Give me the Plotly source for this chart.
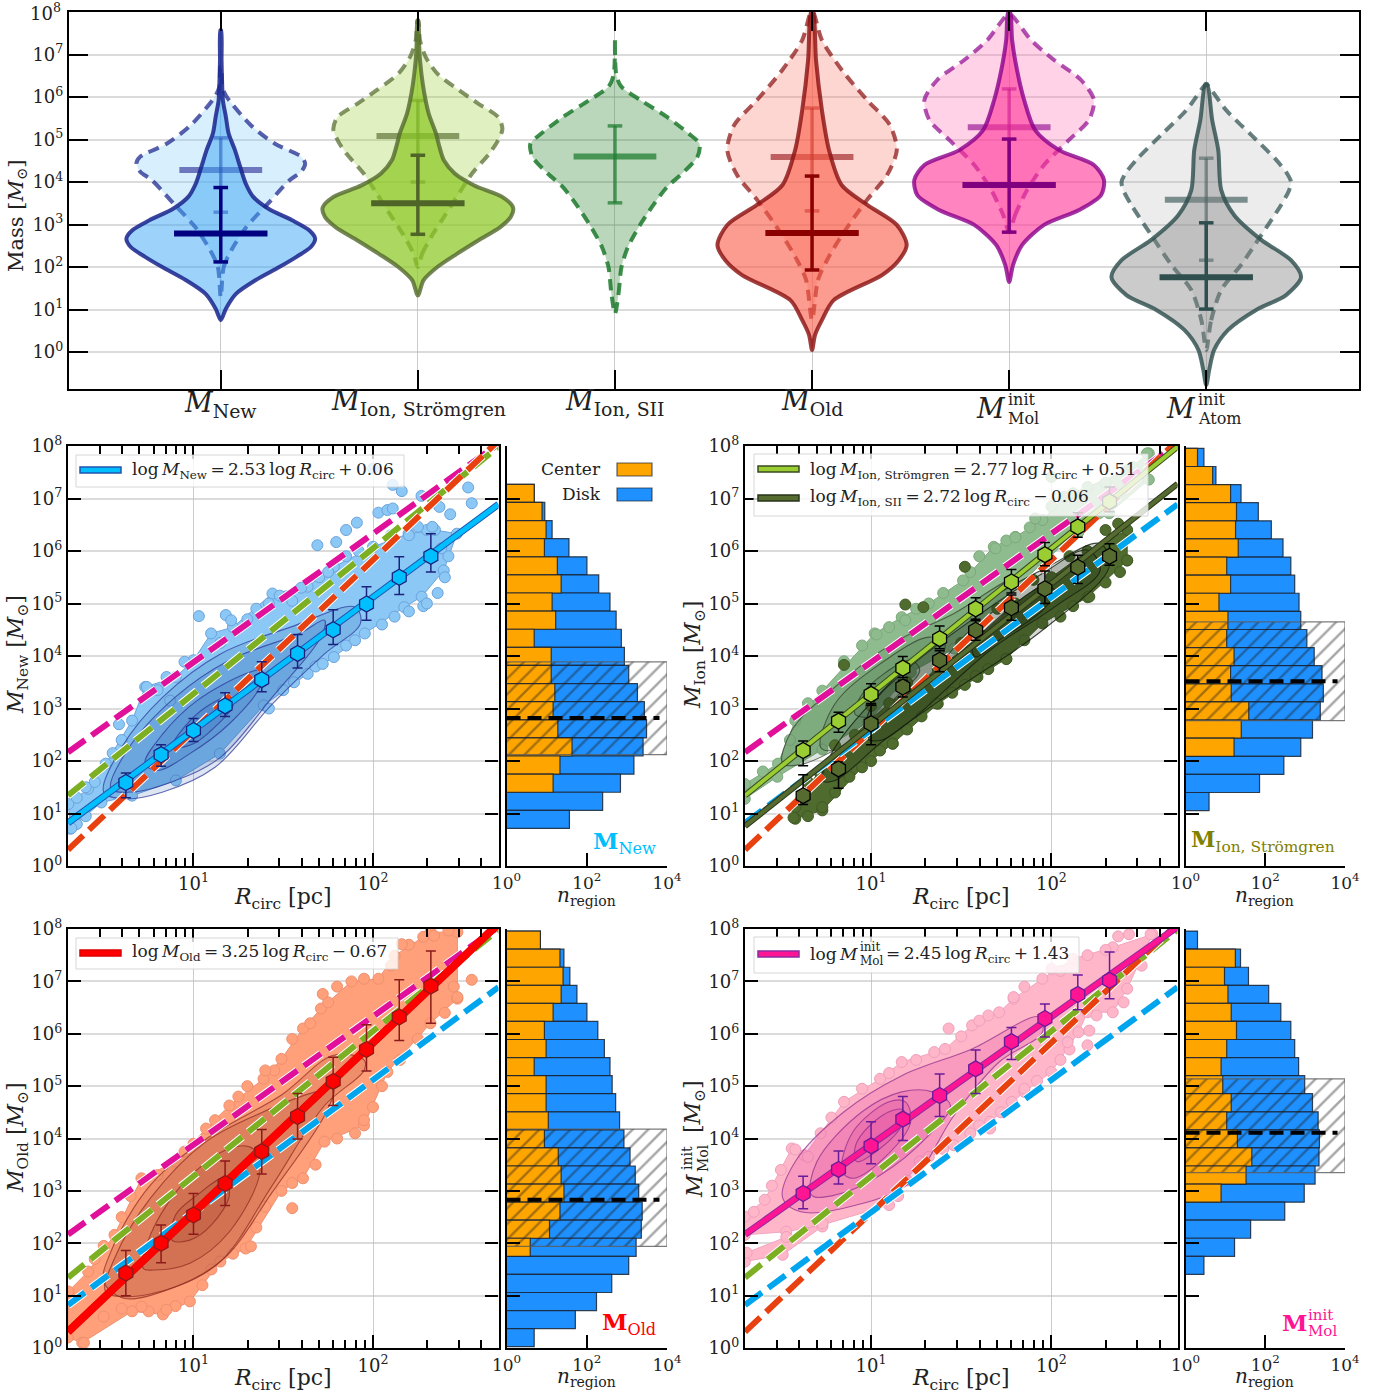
import plotly.graph_objects as go

W, H = 1385, 1395
SERIF = "DejaVu Serif"
TS = "\u2009"

# ---------- top panel: violins (log10 mass, half width in category units) ----------
cat_positions = [0, 1, 2, 3, 4, 5]
mass_ticks = [0, 1, 2, 3, 4, 5, 6, 7, 8]
mass_labels = ["10<sup>%d</sup>" % t for t in mass_ticks]

new_disk_m = [.75, 1.02, 1.37, 1.69, 2.0, 2.24, 2.47, 2.67, 2.86, 3.1, 3.37, 3.65, 3.96, 4.35, 4.75, 5.14, 5.53, 5.92, 6.31, 6.86, 7.57]
new_disk_w = [0, .026, .077, .176, .297, .384, .457, .479, .45, .362, .242, .165, .127, .099, .072, .04, .026, .011, .007, .004, .002]
new_cen_m = [1.29, 2.0, 2.39, 2.94, 3.49, 4.04, 4.25, 4.43, 4.59, 4.9, 5.33, 6.0, 6.24, 6.71]
new_cen_w = [0, .015, .053, .13, .239, .349, .41, .428, .41, .275, .154, .031, .007, .002]
ion_disk_m = [1.33, 1.69, 2.0, 2.31, 2.63, 2.94, 3.18, 3.4, 3.65, 3.92, 4.2, 4.51, 4.82, 5.14, 5.61, 6.08, 6.55, 7.1, 7.8]
ion_disk_w = [0, .029, .099, .198, .308, .418, .472, .483, .428, .286, .187, .132, .11, .092, .055, .033, .018, .007, .002]
ion_cen_m = [2.0, 2.31, 2.78, 3.25, 3.73, 4.2, 4.67, 4.98, 5.25, 5.53, 5.84, 6.16, 6.55, 6.94, 7.33, 7.8]
ion_cen_w = [0, .022, .077, .143, .209, .275, .363, .407, .429, .407, .308, .209, .099, .04, .011, .002]
sii_cen_m = [.9, 1.37, 2.0, 2.47, 2.94, 3.41, 3.88, 4.2, 4.59, 4.9, 5.14, 5.53, 5.92, 6.24, 6.51, 7.37]
sii_cen_w = [0, .018, .033, .066, .121, .187, .264, .341, .418, .429, .374, .264, .132, .033, .007, 0]
old_disk_m = [.05, .4, .75, 1.22, 1.81, 2.16, 2.52, 2.99, 3.46, 3.93, 4.75, 5.69, 6.87, 8.0]
old_disk_w = [0, .015, .05, .11, .355, .44, .48, .43, .28, .15, .086, .05, .02, .005]
old_cen_m = [.75, 1.69, 2.16, 2.75, 3.58, 4.16, 4.75, 5.34, 5.93, 6.63, 7.34, 8.0]
old_cen_w = [0, .03, .076, .152, .279, .38, .43, .395, .279, .152, .05, .005]
mol_disk_m = [1.65, 2.05, 2.52, 2.99, 3.34, 3.69, 4.05, 4.4, 4.75, 5.22, 5.93, 6.63, 7.34, 8.0]
mol_disk_w = [0, .02, .066, .177, .355, .466, .481, .43, .253, .132, .076, .04, .015, .005]
mol_cen_m = [2.82, 3.22, 3.81, 4.4, 4.99, 5.46, 5.93, 6.4, 6.87, 7.34, 7.93]
mol_cen_w = [0, .03, .091, .177, .304, .405, .43, .365, .228, .111, .01]
atom_disk_m = [-.78, -.42, .05, .52, .99, 1.34, 1.76, 2.16, 2.64, 3.22, 3.81, 4.75, 5.46, 6.3]
atom_disk_w = [0, .015, .04, .111, .253, .405, .481, .43, .279, .142, .076, .061, .03, .005]
atom_cen_m = [.05, .75, 1.46, 2.05, 2.75, 3.46, 3.8, 4.0, 4.2, 4.52, 5.11, 5.69, 6.28]
atom_cen_w = [0, .025, .076, .177, .279, .38, .42, .43, .41, .355, .228, .101, .005]

# median, lower cap, upper cap (log10)
new_disk_stats = (2.79, 2.12, 3.87)
new_cen_stats = (4.28, 3.29, 5.04)
ion_disk_stats = (3.50, 2.77, 4.63)
ion_cen_stats = (5.08, 4.00, 5.92)
sii_cen_stats = (4.60, 3.51, 5.32)
old_disk_stats = (2.80, 1.93, 4.14)
old_cen_stats = (4.59, 3.32, 5.74)
mol_disk_stats = (3.93, 2.82, 5.01)
mol_cen_stats = (5.29, 3.93, 6.19)
atom_disk_stats = (1.76, 1.01, 3.04)
atom_cen_stats = (3.58, 2.16, 4.56)

# ---------- scatter panels ----------
bin_R = [4.2, 6.6, 10, 15, 24, 38, 60, 92, 140, 210]
new_med = [1.59, 2.12, 2.58, 3.05, 3.55, 4.05, 4.50, 4.99, 5.50, 5.90]
new_hi = [1.77, 2.31, 2.81, 3.30, 3.89, 4.41, 4.88, 5.32, 5.89, 6.33]
new_lo = [1.30, 1.90, 2.37, 2.85, 3.32, 3.77, 4.22, 4.68, 5.17, 5.60]
ion_med = [2.20, 2.76, 3.27, 3.77, 4.33, 4.90, 5.41, 5.93, 6.46, 6.94]
ion_hi = [2.38, 2.93, 3.47, 3.99, 4.57, 5.11, 5.65, 6.16, 6.73, 7.22]
ion_lo = [1.91, 2.55, 3.06, 3.59, 4.14, 4.67, 5.20, 5.72, 6.26, 6.75]
sii_med = [1.34, 1.85, 2.71, 3.41, 3.92, 4.49, 4.92, 5.28, 5.69, 5.90]
sii_hi = [1.74, 1.98, 3.09, 3.54, 4.10, 4.70, 5.16, 5.62, 5.92, 6.14]
sii_lo = [1.17, 1.48, 2.31, 3.22, 3.70, 4.30, 4.68, 5.00, 5.38, 5.73]
old_med = [1.43, 2.00, 2.54, 3.14, 3.75, 4.42, 5.09, 5.70, 6.32, 6.91]
old_hi = [1.86, 2.35, 2.95, 3.57, 4.17, 4.86, 5.55, 6.17, 7.03, 7.58]
old_lo = [1.00, 1.63, 2.17, 2.72, 3.32, 3.99, 4.63, 5.29, 5.87, 6.20]
mol_med = [2.95, 3.41, 3.86, 4.37, 4.82, 5.33, 5.85, 6.29, 6.75, 7.02]
mol_hi = [3.28, 3.76, 4.32, 4.80, 5.23, 5.69, 6.12, 6.57, 7.12, 7.56]
mol_lo = [2.66, 3.13, 3.52, 3.96, 4.42, 4.86, 5.51, 5.94, 6.46, 6.67]

fit_new = (2.53, 0.06)
fit_ion = (2.77, 0.51)
fit_sii = (2.72, -0.06)
fit_old = (3.25, -0.67)
fit_mol = (2.45, 1.43)
R_ends = [2, 500]

# point-cloud outlines, (log R, log M)
new_cloud = [(.315, .71), (.487, 1.21), (.658, 1.34), (.902, 1.63), (1.147, 2.14), (1.391, 3.06), (1.636, 3.66), (1.782, 3.98), (1.954, 4.43), (2.174, 4.93), (2.271, 5.13), (2.394, 5.63),
             (2.467, 6.33), (2.345, 6.40), (2.198, 6.33), (2.0, 6.08), (1.782, 5.70), (1.636, 5.32), (1.44, 5.19), (1.22, 4.55), (1.098, 4.43), (1.0, 3.92), (.902, 3.60), (.731, 3.41), (.658, 2.77), (.511, 1.95), (.413, 1.47), (.303, 1.18)]
new_out = [(1.03, 4.76), (1.18, 4.78), (1.21, 4.68), (1.69, 6.11), (1.795, 6.17), (1.85, 6.40), (1.91, 6.54), (2.03, 6.73), (2.08, 6.78), (2.11, 6.81), (2.16, 7.14), (2.11, 7.26), (2.0, 7.57),
           (2.27, 7.05), (2.37, 6.84), (2.43, 6.70), (2.53, 7.21), (2.55, 6.91), (2.33, 6.46), (2.25, 6.46), (.585, 2.70), (.74, 3.41), (.95, 3.89), (.87, 3.15)]
new_edge = [(1.42, 3.0), (1.5, 3.35), (1.56, 3.5), (1.68, 3.8), (1.72, 3.85), (1.85, 4.2), (1.9, 4.3), (2.05, 4.6), (2.12, 4.75), (2.2, 4.85), (2.28, 4.95), (2.3, 5.0), (2.36, 5.2), (2.4, 5.5), (2.42, 5.9), (2.38, 6.05),
            (1.15, 4.25), (1.3, 4.7), (1.35, 4.9), (1.42, 5.0), (1.48, 5.15), (1.55, 5.05), (1.6, 5.3), (1.7, 5.5), (1.75, 5.6), (1.85, 5.9), (1.92, 6.0), (2.1, 6.3), (2.2, 6.3), (2.3, 6.4), (.85, 3.6), (.8, 3.35), (.6, 2.4), (.55, 2.15), (.45, 1.6), (.4, 1.5), (.35, 1.3), (.35, .8), (.4, .95), (.32, .72)]
new_contours = [
    [(.5, 1.41), (.6, 2.26), (.83, 3.22), (1.15, 4.04), (1.54, 4.55), (1.9, 4.93), (1.93, 4.62), (1.73, 4.04), (1.44, 3.09), (1.12, 1.88), (.83, 1.41), (.61, 1.28)],
    [(.54, 1.47), (.63, 2.2), (.9, 3.22), (1.2, 3.92), (1.59, 4.43), (1.73, 4.68), (1.71, 4.36), (1.44, 3.22), (1.15, 2.07), (.9, 1.63), (.66, 1.41)],
    [(.73, 1.95), (.83, 2.52), (1.02, 3.15), (1.29, 3.66), (1.38, 3.73), (1.37, 3.41), (1.2, 2.71), (.98, 2.14), (.8, 1.82)],
    [(.88, 2.26), (.95, 2.65), (1.07, 3.03), (1.2, 3.22), (1.22, 3.06), (1.12, 2.65), (1.0, 2.33)],
]
ion_cloud = [(.30, 1.28), (.48, 1.7), (.73, 2.22), (.98, 2.73), (1.22, 3.69), (1.46, 4.14), (1.71, 4.96), (1.95, 5.78), (2.15, 6.36), (2.32, 6.72), (2.54, 7.36),
             (2.54, 7.86), (2.42, 7.54), (2.2, 7.22), (2.07, 7.03), (1.95, 6.59), (1.80, 6.27), (1.68, 6.08), (1.51, 5.44), (1.32, 5.0), (1.17, 4.74), (1.02, 4.43), (.73, 3.34), (.58, 2.77), (.484, 1.95), (.30, 1.56)]
ion_out = [(1.03, 4.41), (1.69, 6.05), (1.8, 6.26), (2.0, 7.41), (2.53, 7.86), (1.91, 6.62), (1.19, 4.68)]
ion_edge = [(.4, 1.8), (.55, 2.4), (.65, 3.1), (.85, 3.9), (.95, 4.2), (1.1, 4.55), (1.25, 4.9), (1.4, 5.2), (1.55, 5.6), (1.6, 5.9), (1.75, 6.2), (1.88, 6.45), (2.0, 6.85), (2.12, 7.1), (2.3, 7.3), (2.45, 7.6)]
ion_contours = [
    [(.51, 1.95), (.56, 2.58), (.80, 3.41), (1.12, 4.24), (1.46, 4.81), (1.78, 5.44), (1.76, 5.13), (1.51, 4.36), (1.22, 3.15), (.92, 2.45), (.63, 1.95)],
    [(.72, 2.26), (.8, 3.09), (1.05, 3.85), (1.32, 4.36), (1.41, 4.24), (1.29, 3.47), (1.02, 2.71), (.78, 2.2)],
    [(.91, 2.9), (.94, 3.22), (1.07, 3.66), (1.22, 3.92), (1.27, 3.73), (1.14, 3.22), (1.0, 2.84)],
]
sii_cloud = [(.58, .90), (.73, 1.06), (.95, 1.88), (1.12, 2.33), (1.37, 3.09), (1.59, 3.6), (1.75, 3.95), (1.95, 4.62), (2.2, 5.12), (2.42, 5.82),
             (2.42, 6.4), (2.2, 6.0), (2.0, 5.5), (1.8, 5.0), (1.61, 4.4), (1.37, 3.75), (1.1, 3.1), (.91, 2.5), (.71, 1.8), (.58, 1.12)]
sii_out = [(.57, .92), (.73, 1.12), (1.12, 2.33), (1.36, 3.10), (1.58, 3.62), (1.75, 3.94), (.85, 3.83), (1.19, 4.98), (1.29, 4.93), (1.52, 5.70), (2.21, 5.13), (2.42, 5.82), (2.37, 6.52)]
sii_edge = [(.65, .95), (.8, 1.4), (.88, 1.7), (1.0, 2.0), (1.05, 2.2), (1.2, 2.6), (1.28, 2.85), (1.45, 3.3), (1.52, 3.45), (1.65, 3.75), (1.85, 4.3), (2.05, 4.75), (2.12, 4.95), (2.3, 5.4), (2.38, 5.6),
            (.65, 1.6), (.8, 2.3), (1.0, 3.05), (1.2, 3.5), (1.5, 4.25), (1.7, 4.9), (1.9, 5.45), (2.1, 5.9), (2.3, 6.4)]
sii_contours = [
    [(.73, 1.63), (.8, 2.26), (1.1, 3.47), (1.56, 4.87), (1.98, 5.7), (2.27, 6.14), (2.32, 5.7), (1.95, 4.49), (1.46, 3.34), (1.07, 2.39), (.8, 1.63)],
    [(.97, 2.45), (1.0, 3.03), (1.17, 3.66), (1.58, 4.74), (1.95, 5.57), (2.2, 6.02), (2.27, 5.63), (2.02, 4.94), (1.66, 4.11), (1.22, 2.77), (1.05, 2.39)],
    [(1.56, 4.17), (1.71, 4.74), (1.95, 5.32), (2.02, 5.25), (1.95, 4.87), (1.71, 4.3), (1.58, 3.98)],
]
old_cloud = [(.30, .2), (.38, .1), (.658, .70), (.83, .64), (.98, .89), (1.15, 1.65), (1.29, 1.9), (1.49, 3.0), (1.61, 3.24), (1.73, 3.94), (1.95, 4.25), (2.08, 5.27), (2.32, 6.2), (2.47, 6.67),
             (2.47, 7.94), (2.32, 7.94), (2.12, 7.49), (2.03, 7.05), (1.88, 7.0), (1.71, 6.48), (1.61, 6.1), (1.49, 5.52), (1.39, 5.14), (1.2, 4.63), (1.07, 4.19), (.90, 3.56), (.71, 3.24), (.56, 2.16), (.413, 1.46), (.303, 1.08)]
old_out = [(.39, .10), (1.55, 2.67), (1.32, 1.94), (1.72, 6.76), (2.55, 7.03), (2.47, 6.70), (1.95, 4.35), (1.4, 5.3), (2.16, 7.71), (2.34, 7.87), (2.42, 7.97), (.85, .73), (.71, .79)]
old_edge = [(.45, 1.7), (.5, 1.95), (.6, 2.5), (.65, 2.9), (.8, 3.3), (.95, 3.75), (1.0, 3.9), (1.12, 4.35), (1.25, 4.8), (1.3, 5.0), (1.45, 5.3), (1.55, 5.9), (1.65, 6.2), (1.75, 6.6), (1.8, 6.9), (1.95, 7.05), (2.1, 7.3), (2.2, 7.7), (2.28, 7.85),
            (.5, .6), (.6, .75), (.75, .7), (.9, .8), (1.05, 1.2), (1.1, 1.5), (1.22, 1.8), (1.35, 2.3), (1.4, 2.7), (1.55, 3.15), (1.68, 3.5), (1.8, 4.0), (1.9, 4.1), (2.0, 4.6), (2.05, 5.0), (2.15, 5.5), (2.25, 5.9), (2.4, 6.4), (2.45, 6.9)]
old_contours = [
    [(.50, 1.27), (.54, 1.84), (.76, 3.11), (1.1, 4.06), (1.49, 4.83), (1.78, 5.59), (1.95, 5.5), (1.95, 5.3), (1.73, 4.63), (1.44, 3.11), (1.15, 1.65), (.88, 1.14), (.61, .95)],
    [(.51, 1.08), (.56, 1.71), (.76, 2.86), (1.07, 3.94), (1.39, 4.51), (1.68, 4.89), (1.78, 4.95), (1.73, 4.44), (1.44, 2.98), (1.17, 1.71), (.90, 1.17), (.63, .98)],
    [(.72, 1.52), (.76, 2.16), (.95, 3.17), (1.2, 3.81), (1.33, 3.81), (1.37, 3.37), (1.2, 2.22), (.98, 1.62), (.78, 1.49)],
    [(.88, 2.06), (.9, 2.54), (1.02, 2.92), (1.17, 3.24), (1.2, 2.92), (1.1, 2.35), (.98, 2.06)],
]
mol_cloud = [(.30, 2.16), (.53, 2.22), (.73, 2.35), (1.1, 2.73), (1.27, 3.56), (1.46, 3.87), (1.66, 4.32), (1.85, 4.89), (2.0, 5.27), (2.15, 6.03), (2.2, 6.41), (2.34, 6.41), (2.42, 6.86),
             (2.56, 7.9), (2.34, 7.65), (2.12, 7.43), (1.95, 7.05), (1.79, 6.67), (1.71, 6.41), (1.56, 6.16), (1.41, 5.71), (1.17, 5.46), (1.05, 5.14), (.85, 4.70), (.63, 3.68), (.56, 3.81), (.41, 2.83), (.30, 2.51)]
mol_band = [(.30, 1.65), (.51, 1.78), (.73, 2.32), (.73, 2.38), (.53, 2.12), (.31, 1.82)]
mol_out = [(1.43, 6.10), (.58, 3.79), (1.79, 6.7), (2.21, 6.06), (2.2, 5.78), (2.37, 7.86), (2.55, 7.9), (1.85, 4.95), (2.09, 5.84), (2.0, 7.24), (1.66, 4.19)]
mol_edge = [(.35, 2.6), (.45, 3.1), (.5, 3.4), (.65, 3.65), (.72, 4.1), (.78, 4.4), (.95, 4.95), (1.1, 5.25), (1.25, 5.5), (1.35, 5.65), (1.5, 5.95), (1.6, 6.25), (1.65, 6.35), (1.85, 6.9), (2.05, 7.2), (2.2, 7.5), (2.3, 7.6), (2.43, 7.9),
            (1.15, 2.9), (1.2, 3.2), (1.32, 3.65), (1.4, 3.8), (1.55, 4.1), (1.6, 4.25), (1.72, 4.5), (1.78, 4.7), (1.92, 5.1), (2.05, 5.5), (2.1, 5.7), (2.25, 6.35), (2.4, 6.6), (2.5, 7.3)]
mol_contours = [
    [(.51, 2.86), (.58, 3.56), (.85, 4.51), (1.17, 5.2), (1.56, 5.71), (1.93, 6.32), (1.95, 6.03), (1.71, 5.46), (1.46, 4.44), (1.22, 3.17), (.92, 2.73), (.61, 2.6)],
    [(.67, 2.92), (.7, 3.56), (.95, 4.51), (1.17, 4.89), (1.34, 4.89), (1.44, 4.63), (1.32, 4.06), (1.05, 3.3), (.8, 2.92)],
    [(.84, 3.37), (.9, 4.13), (1.1, 4.7), (1.19, 4.7), (1.22, 4.32), (1.07, 3.62), (.9, 3.24)],
    [(.91, 3.81), (.96, 4.13), (1.1, 4.51), (1.18, 4.54), (1.17, 4.25), (1.05, 3.81), (.92, 3.56)],
]

# ---------- histograms: region counts per mass bin, top bin first ----------
bin_width = 0.345
new_first_top = 7.27
new_center = [4.9, 7.7, 9.7, 8.8, 18.5, 23, 13.7, 16.8, 4.9, 13, 13, 16, 14.5, 19, 43, 21.5, 14.5, 0, 0]
new_total = [4.9, 9, 13.7, 36, 101, 199, 380, 540, 728, 867, 1112, 1832, 2730, 3094, 2534, 1500, 692, 249, 37]
ion_first_top = 7.955
ion_center = [2.0, 4.8, 13.5, 19, 18, 21, 10.8, 13.5, 6.9, 11.6, 10.8, 16.5, 13.5, 14, 38.6, 25, 16.5, 0, 0, 0]
ion_total = [2.9, 5.8, 24.7, 67, 142, 279, 438, 548, 704, 778, 1105, 1690, 2655, 2860, 2400, 1530, 778, 293, 72, 3.9]
old_first_top = 7.96
old_center = [7, 21.5, 25.7, 23, 14.5, 8.8, 9.7, 4.9, 9.7, 9.7, 11, 8.8, 19.5, 23, 27, 21.5, 11.8, 3.9, 0, 0, 0, 0, 0]
old_total = [7, 27, 38, 57, 101, 189, 275, 380, 430, 525, 658, 845, 1200, 1618, 1973, 2410, 2290, 1700, 1112, 420, 175, 52, 4.9]
mol_first_top = 7.96
mol_center = [0, 17.8, 9.5, 11.6, 14, 19, 10.8, 7.8, 8.6, 14, 10.8, 20, 46, 33, 7.8, 0, 0, 0, 0]
mol_total = [2.0, 24, 38, 122, 246, 438, 548, 687, 975, 1530, 2120, 2285, 2230, 1778, 950, 308, 43, 17, 2.9]
# hatched box: low, high, median (log M)
new_band = (2.12, 3.89, 2.82)
ion_band = (2.77, 4.65, 3.52)
old_band = (1.94, 4.18, 2.83)
mol_band_hist = (3.35, 5.14, 4.11)

R_major = [10, 100]
R_major_labels = ["10<sup>1</sup>", "10<sup>2</sup>"]
R_minor = [3, 4, 5, 6, 7, 8, 9, 20, 30, 40, 50, 60, 70, 80, 90, 200, 300, 400]
n_ticks = [1, 100, 10000]
n_labels = ["10<sup>0</sup>", "10<sup>2</sup>", "10<sup>4</sup>"]


def px(x):
    return x / W


def py(y):
    return 1 - y / H


fig = go.Figure()
layout = dict(width=W, height=H, margin=dict(l=0, r=0, t=0, b=0, autoexpand=False), paper_bgcolor="white", plot_bgcolor="white",
              showlegend=False, barmode="overlay", font=dict(family=SERIF, color="#222"))
annotations, shapes = [], []


def note(x, y, text, size=20, color="#222", anchor="center", angle=0):
    annotations.append(dict(x=px(x), y=py(y), xref="paper", yref="paper", text=text, showarrow=False,
                            font=dict(size=size, color=color, family=SERIF), xanchor=anchor, yanchor="middle", textangle=angle))


def rect(x0, y0, x1, y1, fill, line, width=1):
    shapes.append(dict(type="rect", xref="paper", yref="paper", x0=px(x0), x1=px(x1), y0=py(y0), y1=py(y1), layer="above",
                       fillcolor=fill, line=dict(color=line, width=width)))


GRIDY = "rgba(190,190,190,0.55)"
GRIDX = "rgba(140,140,140,0.45)"
TICKF = 18

# top axes
layout["xaxis"] = dict(domain=[px(69), px(1359)], range=[-.77, 5.775], anchor="y", tickmode="array", tickvals=cat_positions, automargin=False,
                       ticktext=[""] * 6, ticks="inside", ticklen=19, tickwidth=2, tickcolor="black", showline=True, linewidth=2.2,
                       linecolor="black", mirror="allticks", showgrid=True, gridcolor=GRIDX, gridwidth=1, zeroline=False)
layout["yaxis"] = dict(domain=[py(389), py(12)], type="log", range=[-.87, 8], anchor="x", tickmode="array", tickvals=[10 ** t for t in mass_ticks], automargin=False,
                       ticktext=mass_labels, ticks="inside", ticklen=19, tickwidth=2, tickcolor="black", showline=True, linewidth=2.2,
                       linecolor="black", mirror="allticks", showgrid=True, gridcolor=GRIDY, gridwidth=2, zeroline=False,
                       tickfont=dict(size=TICKF, family=SERIF))
note(63, 12, "10<sup>8</sup>", TICKF, anchor="right")


def violin(pos, m, w, fill, line, dash=None, lw=4):
    xs = [pos + v for v in w] + [pos - v for v in reversed(w)]
    ys = [10 ** v for v in m] + [10 ** v for v in reversed(m)]
    fig.add_trace(go.Scatter(x=xs, y=ys, xaxis="x", yaxis="y", mode="lines", fill="toself", fillcolor=fill,
                             line=dict(color=line, width=lw, dash=dash, shape="spline", smoothing=0.8)))


def stat_bars(pos, stats, color, half, wide=6):
    med, lo, hi = stats
    fig.add_trace(go.Scatter(x=[pos, pos], y=[10 ** lo, 10 ** hi], xaxis="x", yaxis="y", mode="lines", line=dict(color=color, width=3.5)))
    for v in (lo, hi):
        fig.add_trace(go.Scatter(x=[pos - .037, pos + .037], y=[10 ** v, 10 ** v], xaxis="x", yaxis="y", mode="lines", line=dict(color=color, width=3.5)))
    fig.add_trace(go.Scatter(x=[pos - half, pos + half], y=[10 ** med, 10 ** med], xaxis="x", yaxis="y", mode="lines", line=dict(color=color, width=wide)))


DASH = "11px,7px"
violin(0, new_cen_m, new_cen_w, "rgba(135,206,250,0.32)", "rgba(25,35,140,0.72)", DASH)
stat_bars(0, new_cen_stats, "rgba(0,0,128,0.5)", .21)
violin(0, new_disk_m, new_disk_w, "rgba(60,165,245,0.5)", "rgba(25,35,140,0.85)")
stat_bars(0, new_disk_stats, "#000080", .237)
violin(1, ion_cen_m, ion_cen_w, "rgba(154,205,50,0.3)", "rgba(85,107,47,0.72)", DASH)
stat_bars(1, ion_cen_stats, "rgba(85,107,47,0.65)", .21)
violin(1, ion_disk_m, ion_disk_w, "rgba(140,200,35,0.72)", "rgba(85,107,47,0.82)")
stat_bars(1, ion_disk_stats, "#4F6528", .237)
violin(2, sii_cen_m, sii_cen_w, "rgba(60,140,60,0.35)", "rgba(34,125,50,0.88)", DASH)
stat_bars(2, sii_cen_stats, "rgba(34,125,50,0.75)", .21)
violin(3, old_cen_m, old_cen_w, "rgba(250,128,114,0.32)", "rgba(139,20,20,0.72)", DASH)
stat_bars(3, old_cen_stats, "rgba(139,0,0,0.55)", .21)
violin(3, old_disk_m, old_disk_w, "rgba(250,90,70,0.6)", "rgba(139,20,20,0.82)")
stat_bars(3, old_disk_stats, "#8B0000", .237)
violin(4, mol_cen_m, mol_cen_w, "rgba(255,105,180,0.3)", "rgba(139,0,139,0.68)", DASH)
stat_bars(4, mol_cen_stats, "rgba(139,0,139,0.6)", .21)
violin(4, mol_disk_m, mol_disk_w, "rgba(255,50,150,0.6)", "rgba(139,0,139,0.8)")
stat_bars(4, mol_disk_stats, "#800080", .237)
violin(5, atom_cen_m, atom_cen_w, "rgba(170,170,170,0.22)", "rgba(47,79,79,0.72)", DASH)
stat_bars(5, atom_cen_stats, "rgba(47,79,79,0.6)", .21)
violin(5, atom_disk_m, atom_disk_w, "rgba(130,130,130,0.42)", "rgba(47,79,79,0.82)")
stat_bars(5, atom_disk_stats, "#2F4F4F", .237)

note(17, 216, "Mass [<i>M</i><sub>⊙</sub>]", 21, angle=-90)
note(220, 404, "<i>M</i><sub>New</sub>", 27)
note(418, 403, "<i>M</i><sub>Ion, Strömgren</sub>", 27)
note(615, 403, "<i>M</i><sub>Ion, SII</sub>", 27)
note(812, 403, "<i>M</i><sub>Old</sub>", 27)
note(991, 409, "<i>M</i>", 27)
note(1006, 399, "init", 16, anchor="left")
note(1006, 418, "Mol", 16, anchor="left")
note(1181, 409, "<i>M</i>", 27)
note(1196, 399, "init", 16, anchor="left")
note(1196, 418, "Atom", 16, anchor="left")


def pairs(seq):
    return [10 ** p[0] for p in seq], [10 ** p[1] for p in seq]


def poly(ax, seq, fill, line, lw=1.0, spline=False):
    x, y = pairs(list(seq) + [seq[0]])
    fig.add_trace(go.Scatter(x=x, y=y, xaxis="x" + ax, yaxis="y" + ax, mode="lines", fill="toself", fillcolor=fill,
                             line=dict(color=line, width=lw, shape="spline" if spline else "linear", smoothing=1.0)))


def dots(ax, seq, color, edge, size=11):
    x, y = pairs(seq)
    fig.add_trace(go.Scatter(x=x, y=y, xaxis="x" + ax, yaxis="y" + ax, mode="markers",
                             marker=dict(size=size, color=color, line=dict(color=edge, width=1))))


def fit_solid(ax, fit, core, edge, w=5, e=7):
    ys = [10 ** (fit[0] * lr + fit[1]) for lr in (0.30103, 2.69897)]
    for col, wid in ((edge, e), (core, w)):
        fig.add_trace(go.Scatter(x=R_ends, y=ys, xaxis="x" + ax, yaxis="y" + ax, mode="lines", line=dict(color=col, width=wid)))


def fit_dash(ax, fit, color):
    ys = [10 ** (fit[0] * lr + fit[1]) for lr in (0.30103, 2.69897)]
    for col, wid in (("white", 8), (color, 6)):
        fig.add_trace(go.Scatter(x=R_ends, y=ys, xaxis="x" + ax, yaxis="y" + ax, mode="lines",
                                 line=dict(color=col, width=wid, dash="21px,8px")))


def binned(ax, med, hi, lo, color, edge, size=16):
    m = [10 ** v for v in med]
    up = [10 ** h - 10 ** v for h, v in zip(hi, med)]
    dn = [10 ** v - 10 ** l for l, v in zip(lo, med)]
    fig.add_trace(go.Scatter(x=bin_R, y=m, xaxis="x" + ax, yaxis="y" + ax, mode="markers",
                             error_y=dict(type="data", array=up, arrayminus=dn, color=edge, thickness=1.5, width=5),
                             marker=dict(symbol="hexagon", size=size, color=color, line=dict(color=edge, width=1.3))))


def make_axes(ax_s, ax_h, x0, x1, hx0, hx1, ytop, ybot):
    yvals = [10 ** t for t in mass_ticks]
    layout["xaxis" + ax_s] = dict(domain=[px(x0), px(x1)], type="log", range=[0.30103, 2.69897], anchor="y" + ax_s, tickmode="array", automargin=False,
                                  tickvals=R_major, ticktext=R_major_labels, ticks="inside", ticklen=13, tickwidth=1.5, tickcolor="black",
                                  minor=dict(tickmode="array", tickvals=R_minor, ticks="inside", ticklen=8, tickwidth=1.5, tickcolor="black", showgrid=False),
                                  showline=True, linewidth=2.2, linecolor="black", mirror="allticks", showgrid=True, gridcolor=GRIDX, gridwidth=1,
                                  zeroline=False, tickfont=dict(size=TICKF, family=SERIF))
    layout["yaxis" + ax_s] = dict(domain=[py(ybot), py(ytop)], type="log", range=[0, 8], anchor="x" + ax_s, tickmode="array", tickvals=yvals, automargin=False,
                                  ticktext=mass_labels, ticks="inside", ticklen=13, tickwidth=1.5, tickcolor="black", showline=True, linewidth=2.2,
                                  linecolor="black", mirror="allticks", showgrid=True, gridcolor=GRIDY, gridwidth=2, zeroline=False,
                                  tickfont=dict(size=TICKF, family=SERIF))
    layout["xaxis" + ax_h] = dict(domain=[px(hx0), px(hx1)], type="log", range=[0, 4], anchor="y" + ax_h, tickmode="array", tickvals=n_ticks, automargin=False,
                                  ticktext=n_labels, ticks="inside", ticklen=13, tickwidth=1.5, tickcolor="black", showline=True, linewidth=2.2,
                                  linecolor="black", showgrid=False, zeroline=False, tickfont=dict(size=17, family=SERIF))
    layout["yaxis" + ax_h] = dict(domain=[py(ybot), py(ytop)], range=[0, 8], anchor="x" + ax_h, tickmode="array", tickvals=mass_ticks, automargin=False,
                                  ticktext=[""] * 9, ticks="inside", ticklen=13, tickwidth=1.5, tickcolor="black", showline=True, linewidth=2.2,
                                  linecolor="black", showgrid=False, zeroline=False)


def hist(ax, first_top, center, total, band):
    ys = [first_top - bin_width * (i + .5) for i in range(len(total))]
    edge = "rgba(25,35,50,0.85)"
    fig.add_trace(go.Bar(orientation="h", x=total, y=ys, width=bin_width, xaxis="x" + ax, yaxis="y" + ax,
                         marker=dict(color="#1E90FF", line=dict(color=edge, width=1.2))))
    cy = [y for y, c in zip(ys, center) if c > 0]
    cx = [c for c in center if c > 0]
    fig.add_trace(go.Bar(orientation="h", x=cx, y=cy, width=bin_width, xaxis="x" + ax, yaxis="y" + ax,
                         marker=dict(color="#FFA500", line=dict(color=edge, width=1.2))))
    lo, hi, med = band
    fig.add_trace(go.Bar(orientation="h", x=[1e4], y=[(lo + hi) / 2], width=hi - lo, xaxis="x" + ax, yaxis="y" + ax,
                         marker=dict(color="rgba(128,128,128,0)", line=dict(color="rgba(90,90,90,0.8)", width=1.2),
                                     pattern=dict(shape="/", fgcolor="rgba(30,30,30,0.8)", bgcolor="rgba(0,0,0,0)", size=11, solidity=0.22))))
    fig.add_trace(go.Scatter(x=[1, 6500], y=[med, med], xaxis="x" + ax, yaxis="y" + ax, mode="lines",
                             line=dict(color="black", width=4, dash="14px,7px")))


MOL_C, ION_C, OLD_C, NEW_C = "#E0109A", "#7CAF22", "#E8400F", "#00A5EE"

# panel 1: new
make_axes("2", "3", 68, 498.5, 506.5, 667, 446, 866)
poly("2", new_cloud, "#8CC8F5", "#6BA3DC")
dots("2", new_cloud + new_edge + new_out, "#8CC8F5", "#6BA3DC")
for c in new_contours:
    poly("2", c, "rgba(30,80,170,0.15)", "rgba(40,50,150,0.7)", 1.1, True)
fit_dash("2", fit_mol, MOL_C)
fit_dash("2", fit_ion, ION_C)
fit_dash("2", fit_old, OLD_C)
fit_solid("2", fit_new, "#00BFFF", "#1E56B0")
binned("2", new_med, new_hi, new_lo, "#00BFFF", "#1A237E")
hist("3", new_first_top, new_center, new_total, new_band)

# panel 2: ion
make_axes("4", "5", 745, 1177.5, 1185.5, 1345, 446, 866)
poly("4", ion_cloud, "#8FBC8F", "#7DA87D")
dots("4", ion_cloud + ion_edge + ion_out, "#8FBC8F", "#7DA87D")
for c in ion_contours:
    poly("4", c, "rgba(40,80,40,0.15)", "rgba(45,60,40,0.7)", 1.1, True)
poly("4", sii_cloud, "#4F6B2E", "#3F5A24")
dots("4", sii_cloud + sii_edge + sii_out, "#4F6B2E", "#3F5A24")
for c in sii_contours:
    poly("4", c, "rgba(30,40,20,0.18)", "rgba(20,30,15,0.8)", 1.1, True)
fit_dash("4", fit_mol, MOL_C)
fit_dash("4", fit_old, OLD_C)
fit_dash("4", fit_new, NEW_C)
fit_solid("4", fit_sii, "#556B2F", "#2A351A", 4, 6)
fit_solid("4", fit_ion, "#9ACD32", "#3A4A20", 4, 6)
binned("4", sii_med, sii_hi, sii_lo, "#556B2F", "black")
binned("4", ion_med, ion_hi, ion_lo, "#9ACD32", "black")
hist("5", ion_first_top, ion_center, ion_total, ion_band)

# panel 3: old
make_axes("6", "7", 68, 498.5, 506.5, 667, 929, 1348)
poly("6", old_cloud, "#FFA07A", "#EE9070")
dots("6", old_cloud + old_edge + old_out, "#FFA07A", "#EE9070")
for c in old_contours:
    poly("6", c, "rgba(150,50,30,0.16)", "rgba(140,40,30,0.7)", 1.1, True)
fit_dash("6", fit_mol, MOL_C)
fit_dash("6", fit_ion, ION_C)
fit_dash("6", fit_new, NEW_C)
fit_solid("6", fit_old, "#FF0000", "#E00000", 7, 8)
binned("6", old_med, old_hi, old_lo, "#FF0000", "#8B1A1A")
hist("7", old_first_top, old_center, old_total, old_band)

# panel 4: mol
make_axes("8", "9", 745, 1177.5, 1185.5, 1345, 929, 1348)
poly("8", mol_cloud, "#FFB6C8", "#F3A5C0")
poly("8", mol_band, "#FFB6C8", "#F3A5C0")
dots("8", mol_cloud + mol_band + mol_edge + mol_out, "#FFB6C8", "#EEA0BE")
for c in mol_contours:
    poly("8", c, "rgba(220,50,150,0.2)", "rgba(140,40,140,0.7)", 1.1, True)
fit_dash("8", fit_ion, ION_C)
fit_dash("8", fit_old, OLD_C)
fit_dash("8", fit_new, NEW_C)
fit_solid("8", fit_mol, "#FF1493", "#8E2B9E", 5, 7)
binned("8", mol_med, mol_hi, mol_lo, "#FF1493", "#6A1B9A")
hist("9", mol_first_top, mol_center, mol_total, mol_band_hist)

# axis titles
for cx, hx in ((283, 586), (961, 1264)):
    for yy in (898, 1379):
        note(cx, yy, "<i>R</i><sub>circ</sub> [pc]", 22)
        note(hx, yy - 2, "<i>n</i><sub>region</sub>", 20)
note(17, 655, "<i>M</i><sub>New</sub> [<i>M</i><sub>⊙</sub>]", 22, angle=-90)
note(694, 655, "<i>M</i><sub>Ion</sub> [<i>M</i><sub>⊙</sub>]", 22, angle=-90)
note(17, 1138, "<i>M</i><sub>Old</sub> [<i>M</i><sub>⊙</sub>]", 22, angle=-90)
note(694, 1186, "<i>M</i>", 22, angle=-90)
note(687, 1158, "init", 14, angle=-90)
note(703, 1158, "Mol", 14, angle=-90)
note(694, 1107, "[<i>M</i><sub>⊙</sub>]", 22, angle=-90)

# legends
BOX_F, BOX_L = "rgba(255,255,255,0.8)", "rgba(205,205,205,0.8)"
rect(76, 455, 404, 487, BOX_F, BOX_L)
rect(80, 467, 121, 473, "#00BFFF", "#1E56B0", 1.5)
note(130, 470, f"log{TS}<i>M</i><sub>New</sub>{TS}={TS}2.53{TS}log{TS}<i>R</i><sub>circ</sub>{TS}+{TS}0.06", 17, anchor="left")
rect(754, 454, 1148, 516, BOX_F, BOX_L)
rect(758, 466, 799, 472, "#9ACD32", "#3A4A20", 1.5)
note(808, 470, f"log{TS}<i>M</i><sub>Ion, Strömgren</sub>{TS}={TS}2.77{TS}log{TS}<i>R</i><sub>circ</sub>{TS}+{TS}0.51", 17, anchor="left")
rect(758, 495, 799, 501, "#556B2F", "#2A351A", 1.5)
note(808, 498, f"log{TS}<i>M</i><sub>Ion, SII</sub>{TS}={TS}2.72{TS}log{TS}<i>R</i><sub>circ</sub>{TS}−{TS}0.06", 17, anchor="left")
rect(76, 938, 398, 969, BOX_F, BOX_L)
rect(80, 950, 121, 956, "#FF0000", "#E00000", 1.5)
note(130, 952, f"log{TS}<i>M</i><sub>Old</sub>{TS}={TS}3.25{TS}log{TS}<i>R</i><sub>circ</sub>{TS}−{TS}0.67", 17, anchor="left")
rect(754, 937, 1079, 973, BOX_F, BOX_L)
rect(758, 951, 799, 957, "#FF1493", "#8E2B9E", 1.5)
note(808, 954, f"log{TS}<i>M</i>", 17, anchor="left")
note(858, 947, "init", 12, anchor="left")
note(858, 961, "Mol", 12, anchor="left")
note(884, 954, f"={TS}2.45{TS}log{TS}<i>R</i><sub>circ</sub>{TS}+{TS}1.43", 17, anchor="left")

# histogram legend
note(603, 469, "Center", 17, anchor="right")
note(603, 494, "Disk", 17, anchor="right")
rect(617, 463, 652, 476, "#FFA500", "rgba(25,35,50,0.7)", 1.2)
rect(617, 488, 652, 501, "#1E90FF", "rgba(25,35,50,0.7)", 1.2)

# histogram tags
note(658, 842, "<b>M</b><sub>New</sub>", 23, "#00BFFF", "right")
note(1337, 841, "<b>M</b><sub>Ion, Strömgren</sub>", 22, "#808000", "right")
note(658, 1323, "<b>M</b><sub>Old</sub>", 23, "#FF0000", "right")
note(1294, 1322, "<b>M</b>", 23, "#FF1493")
note(1306, 1315, "init", 15, "#FF1493", "left")
note(1306, 1331, "Mol", 15, "#FF1493", "left")

layout["annotations"] = annotations
layout["shapes"] = shapes
fig.update_layout(**layout)
fig.write_html("out.html", config=dict(displayModeBar=False), post_script="document.body.style.margin='0';")
